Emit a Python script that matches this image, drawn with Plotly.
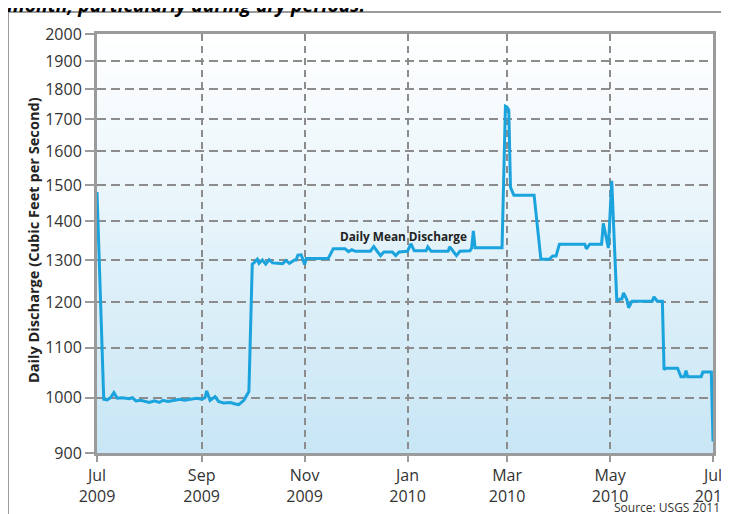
import math
import plotly.graph_objects as go

# daily mean discharge (cubic feet per second)
DATES = [
    "2009-07-01", "2009-07-05", "2009-07-07", "2009-07-09", "2009-07-11", "2009-07-13",
    "2009-07-16", "2009-07-20", "2009-07-22", "2009-07-24", "2009-07-27", "2009-07-29",
    "2009-08-01", "2009-08-04", "2009-08-07", "2009-08-09", "2009-08-12", "2009-08-16",
    "2009-08-19", "2009-08-22", "2009-08-26", "2009-08-29", "2009-09-01", "2009-09-03",
    "2009-09-04", "2009-09-06", "2009-09-09", "2009-09-11", "2009-09-14", "2009-09-18",
    "2009-09-21", "2009-09-23", "2009-09-26", "2009-09-28", "2009-09-29", "2009-10-01",
    "2009-10-02", "2009-10-04", "2009-10-05", "2009-10-07", "2009-10-09", "2009-10-11",
    "2009-10-13", "2009-10-16", "2009-10-19", "2009-10-21", "2009-10-23", "2009-10-26",
    "2009-10-27", "2009-10-28", "2009-10-30", "2009-11-01", "2009-11-02", "2009-11-15",
    "2009-11-18", "2009-11-25", "2009-11-27", "2009-11-29", "2009-12-01", "2009-12-10",
    "2009-12-12", "2009-12-14", "2009-12-16", "2009-12-18", "2009-12-23", "2009-12-25",
    "2009-12-27", "2010-01-01", "2010-01-03", "2010-01-05", "2010-01-12", "2010-01-13",
    "2010-01-15", "2010-01-25", "2010-01-26", "2010-01-28", "2010-01-30", "2010-02-01",
    "2010-02-07", "2010-02-08", "2010-02-09", "2010-02-10", "2010-02-26", "2010-02-28",
    "2010-03-01", "2010-03-02", "2010-03-03", "2010-03-05", "2010-03-17", "2010-03-21",
    "2010-03-26", "2010-03-28", "2010-03-30", "2010-04-01", "2010-04-16", "2010-04-17",
    "2010-04-19", "2010-04-26", "2010-04-27", "2010-04-30", "2010-05-02", "2010-05-05",
    "2010-05-07", "2010-05-08", "2010-05-09", "2010-05-11", "2010-05-12", "2010-05-14",
    "2010-05-26", "2010-05-27", "2010-05-29", "2010-06-01", "2010-06-02", "2010-06-03",
    "2010-06-10", "2010-06-12", "2010-06-14", "2010-06-15", "2010-06-16", "2010-06-24",
    "2010-06-25", "2010-06-30", "2010-07-01",
]
CFS = [
    1480, 997, 996, 1000, 1010, 999,
    1000, 998, 1000, 994, 995, 993,
    991, 994, 991, 995, 993, 995,
    997, 995, 997, 999, 997, 1000,
    1013, 995, 1002, 993, 990, 991,
    988, 987, 995, 1008, 1012, 1290,
    1293, 1302, 1292, 1300, 1290, 1301,
    1293, 1292, 1291, 1299, 1292, 1300,
    1300, 1312, 1313, 1289, 1304, 1304,
    1328, 1328, 1321, 1326, 1322, 1322,
    1334, 1322, 1311, 1320, 1320, 1311,
    1320, 1322, 1341, 1323, 1323, 1333,
    1322, 1322, 1333, 1322, 1311, 1322,
    1323, 1330, 1374, 1331, 1331, 1743,
    1740, 1730, 1493, 1471, 1471, 1302,
    1302, 1310, 1310, 1340, 1340, 1328,
    1340, 1340, 1394, 1330, 1512, 1202,
    1207, 1207, 1221, 1205, 1187, 1202,
    1202, 1212, 1202, 1202, 1055, 1058,
    1058, 1041, 1041, 1053, 1041, 1041,
    1050, 1050, 920,
]

X_RANGE = ["2009-07-01", "2010-07-01"]
Y_RANGE = [900, 2000]
Y_TICKS = list(range(900, 2001, 100))
X_TICKS = ["2009-07-01", "2009-09-01", "2009-11-01", "2010-01-01",
           "2010-03-01", "2010-05-01", "2010-07-01"]
X_LABELS = ["Jul<br>2009", "Sep<br>2009", "Nov<br>2009", "Jan<br>2010",
            "Mar<br>2010", "May<br>2010", "Jul<br>2010"]

FONT = "Open Sans"
GRAY = "#9b9b9b"

fig = go.Figure()
fig.add_trace(go.Scatter(
    x=DATES, y=CFS, mode="lines",
    line=dict(color="#1ba3dd", width=3),
    hoverinfo="skip", showlegend=False,
))

# vertical white -> light blue gradient behind the grid
shapes = []
n = 80
top, bottom = (255, 255, 255), (200, 230, 245)
for i in range(n):
    t = (i + 0.5) / n
    c = tuple(round(bottom[k] + (top[k] - bottom[k]) * t) for k in range(3))
    shapes.append(dict(type="rect", xref="x domain", yref="y domain",
                       x0=0, x1=1, y0=i / n, y1=(i + 1) / n + 0.002,
                       fillcolor="rgb(%d,%d,%d)" % c, line=dict(width=0),
                       layer="below"))
# left and top edge of the outer box (the rest is off the page)
shapes.append(dict(type="path", xref="paper", yref="paper",
                   path="M -0.1445,-0.2 L -0.1445,1.0525 L 1.05,1.0525",
                   line=dict(color=GRAY, width=2), layer="above"))

# the page body has an 8px margin, so the figure is made 8px smaller
fig.update_layout(
    width=721, height=506,
    margin=dict(l=89, r=16, t=26, b=61),
    paper_bgcolor="white", plot_bgcolor="rgba(0,0,0,0)",
    font=dict(family=FONT, color="#333333", size=16),
    shapes=shapes,
    annotations=[
        dict(text="Daily Mean Discharge", x=0.497, y=0.518, xref="paper", yref="paper",
             xanchor="center", yanchor="middle", showarrow=False,
             font=dict(size=11.8, color="#222222", family=FONT, weight="bold")),
        dict(text="Daily Discharge (Cubic Feet per Second)", x=-0.104, y=0.508,
             xref="paper", yref="paper", xanchor="center", yanchor="middle",
             textangle=-90, showarrow=False,
             font=dict(size=14.6, color="#222222", family=FONT, weight="bold")),
        dict(text="Source: USGS 2011", x=0.925, y=-0.129, xref="paper", yref="paper",
             xanchor="center", yanchor="middle", showarrow=False,
             font=dict(size=12, color="#333333", family=FONT)),
        dict(text="month, particularly during dry periods.", x=-0.149, y=1.0693,
             xref="paper", yref="paper", xanchor="left", yanchor="middle",
             showarrow=False,
             font=dict(size=19.5, color="#000000", family=FONT, weight="bold", style="italic")),
    ],
)

fig.update_xaxes(
    type="date", range=X_RANGE, automargin=False,
    tickmode="array", tickvals=X_TICKS, ticktext=X_LABELS,
    ticklabeloverflow="allow",
    ticks="outside", ticklen=6, tickwidth=2, tickcolor=GRAY,
    showline=True, linecolor=GRAY, linewidth=3, mirror=True,
    showgrid=True, gridcolor="#8c8c8c", gridwidth=1.5, griddash="7px,5px",
    zeroline=False,
)
fig.update_yaxes(
    type="log", range=[math.log10(Y_RANGE[0]), math.log10(Y_RANGE[1])],
    automargin=False,
    tickmode="array", tickvals=Y_TICKS, ticktext=[str(v) for v in Y_TICKS],
    ticks="outside", ticklen=9, tickwidth=2, tickcolor=GRAY,
    showline=True, linecolor=GRAY, linewidth=3, mirror=True,
    showgrid=True, gridcolor="#8c8c8c", gridwidth=1.5, griddash="9px,5px",
    zeroline=False,
)

fig.write_html("out.html")
